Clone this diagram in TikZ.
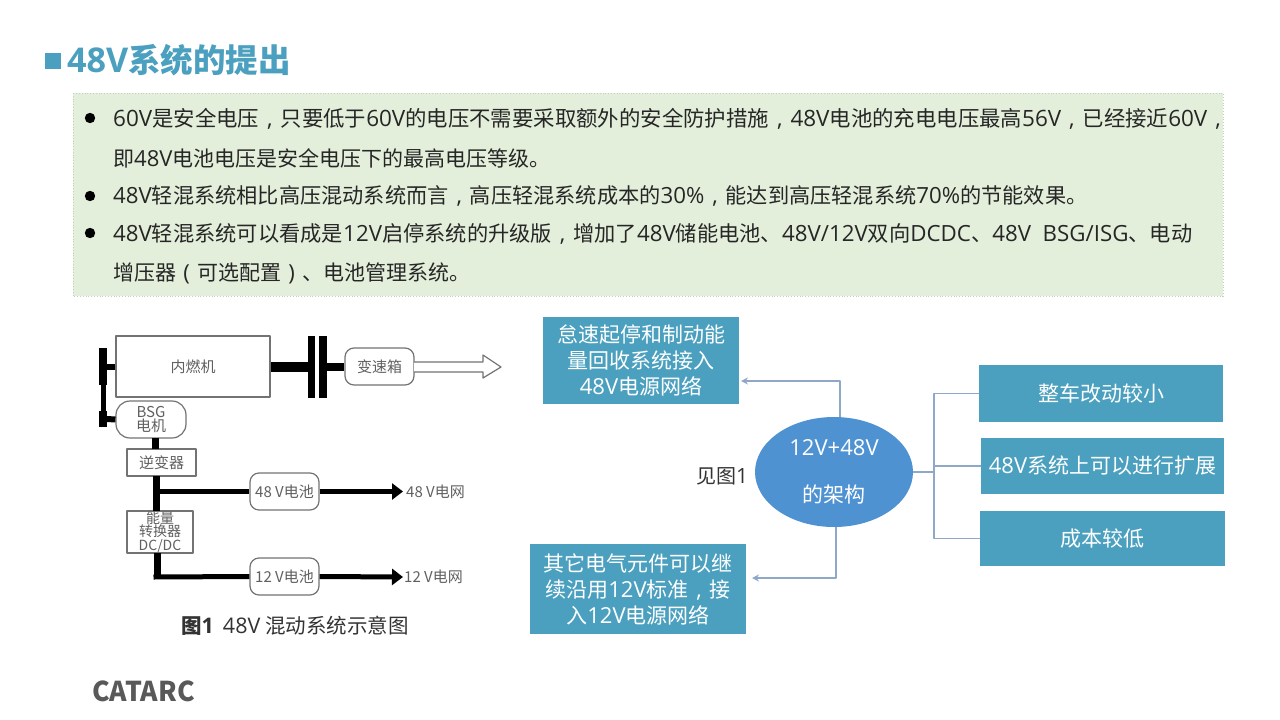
\documentclass[tikz,border=0pt]{standalone}
\usepackage{fontspec}
\usepackage{graphicx}
\setmainfont{Noto Sans CJK SC}
\newfontfamily\latinfont{Open Sans}[Scale=1.05]
\newcommand{\latn}[1]{{\latinfont #1}}
\newcommand{\wide}[1]{\makebox[1em][c]{\latinfont #1}}
\usetikzlibrary{shapes.geometric,arrows.meta}
\definecolor{tealbox}{HTML}{4BA0BF}
\definecolor{archblue}{HTML}{4F92D2}
\definecolor{panelgreen}{HTML}{E3EFDB}
\definecolor{linkblue}{HTML}{8FA8C8}
\definecolor{sketchgray}{HTML}{606060}
\tikzset{
	body/.style={anchor=west,text=black!85,font=\fontsize{#1}{21}\selectfont,inner sep=0pt},
	tealnode/.style={draw=none,fill=tealbox,text=white,align=center,inner sep=0pt,font=\fontsize{21}{26}\selectfont},
	partbox/.style={draw=black!55,line width=1.2pt,fill=white,text=sketchgray,align=center,inner sep=0pt,font=\fontsize{15}{14}\selectfont},
	partround/.style={partbox,rounded corners=9pt},
	shaft/.style={line width=#1,black},
	feed/.style={line width=5pt,black,-{Triangle[length=11pt,width=16pt]}},
	link/.style={linkblue,line width=1.2pt,>={Stealth[length=7pt,width=7pt]}},
	gridlabel/.style={anchor=west,text=sketchgray,inner sep=0pt,font=\fontsize{15}{15}\selectfont},
}
\newcommand{\boxat}[4]{(#1,#2) rectangle (#3,#4)}
\begin{document}
\begin{tikzpicture}[x=1pt,y=-1pt,line join=round,>=stealth]
	\useasboundingbox (0,0) rectangle (1280,720);
	% title
	\fill[tealbox] \boxat{45}{53}{61}{69};
	\node (title) at (67,60) [anchor=west,inner sep=0pt,text=tealbox,font=\fontsize{32.5}{32.5}\selectfont\bfseries]{\latn{48V}系统的提出};
	% green panel
	\draw[panelgreen!70!gray,fill=panelgreen,dotted,line width=0.8pt] \boxat{73}{93}{1223}{296};
	\foreach \y in {118,196,233}
		\fill[black] (90,\y) circle (5.2);
	\node (lineA) at (113,119) [body=21.4]{\latn{60V}是安全电压\wide{,}只要低于\latn{60V}的电压不需要采取额外的安全防护措施\wide{,}\latn{48V}电池的充电电压最高\latn{56V}\wide{,}已经接近\latn{60V}\wide{,}};
	\node (lineB) at (113,158) [body=21]{即\latn{48V}电池电压是安全电压下的最高电压等级。};
	\node (lineC) at (113,196) [body=21.2]{\latn{48V}轻混系统相比高压混动系统而言\wide{,}高压轻混系统成本的\latn{30\%}\wide{,}能达到高压轻混系统\latn{70\%}的节能效果。};
	\node (lineD) at (113,234) [body=21.25]{\latn{48V}轻混系统可以看成是\latn{12V}启停系统的升级版\wide{,}增加了\latn{48V}储能电池、\latn{48V/12V}双向\latn{DCDC}、\latn{48V\ \ BSG/ISG}、电动};
	\node (lineE) at (113,273) [body=21]{增压器\wide{(}可选配置\wide{)}、电池管理系统。};
	% system sketch
	\node (engine) at (193,366.5) [partbox,minimum width=154pt,minimum height=61pt]{内燃机};
	\node (gearbox) at (379.5,366.5) [partround,minimum width=69pt,minimum height=37pt]{变速箱};
	\node (bsg) at (151,419.5) [partround,rounded corners=14pt,minimum width=70pt,minimum height=37pt]{BSG\\电机};
	\node (inverter) at (161.5,462.5) [partbox,minimum width=69pt,minimum height=27pt]{逆变器};
	\node (converter) at (160,532) [partbox,minimum width=66pt,minimum height=42pt,font=\fontsize{14}{13.5}\selectfont]{能量\\转换器\\DC/DC};
	\node (batA) at (284.5,491.5) [partround,minimum width=69pt,minimum height=37pt]{48 V电池};
	\node (batB) at (284.5,576.5) [partround,minimum width=69pt,minimum height=37pt]{12 V电池};
	\node (gridA) at (406,491.5) [gridlabel]{48 V电网};
	\node (gridB) at (404,577) [gridlabel]{12 V电网};
	\fill[black] \boxat{99}{348}{107}{385};
	\fill[black] \boxat{101}{385}{106}{411};
	\fill[black] \boxat{99}{411}{107}{427};
	\draw[shaft=6pt] (107,367)--(engine.west|-107,367);
	\draw[shaft=6pt] (107,419)--(bsg.west);
	\fill[black] \boxat{307.5}{336}{315}{398};
	\fill[black] \boxat{319}{336}{327}{398};
	\draw[shaft=10pt] (engine.east)--(307.5,366.5);
	\draw[shaft=8pt] (327,366.5)--(gearbox.west);
	\draw[shaft=7pt] (155,438)--(155,449);
	\draw[shaft=7pt] (156,476)--(156,511);
	\draw[shaft=5pt] (156,491.5)--(batA.west);
	\draw[feed,shorten >=3pt] (batA.east)--(gridA.west);
	\draw[shaft=7pt] (157,553)--(157,577);
	\draw[shaft=5pt] (153.5,577)--(batB.west);
	\draw[feed,shorten >=1pt] (batB.east)--(gridB.west);
	\draw[black!55,line width=1.2pt,fill=white] (414,362)--(483,362)--(483,355)--(501,367)--(483,378)--(483,372)--(414,372);
	\node (caption) at (181,626) [anchor=west,inner sep=0pt,text=black!80,font=\fontsize{20.5}{20.5}\selectfont]{\textbf{图\latn{1}}\hspace{9pt}\latn{48V}\hspace{5pt}混动系统示意图};
	% architecture
	\node (arch) at (834,472) [ellipse,fill=archblue,text=white,minimum width=158pt,minimum height=110pt,inner sep=0pt,align=center,font=\fontsize{21}{47}\selectfont]{\latn{12V+48V}\\的架构};
	\node (seeFig) at (696,476) [anchor=west,inner sep=0pt,text=black!80,font=\fontsize{20}{20}\selectfont]{见图\latn{1}};
	\node (stopBox) at (641,360.5) [tealnode,minimum width=196pt,minimum height=87pt]{怠速起停和制动能\\量回收系统接入\\\latn{48V}电源网络};
	\node (otherBox) at (638,589) [tealnode,minimum width=216pt,minimum height=90pt]{其它电气元件可以继\\续沿用\latn{12V}标准\wide{,}接\\入\latn{12V}电源网络};
	\node (sideA) at (1101,393.5) [tealnode,minimum width=244pt,minimum height=57pt]{整车改动较小};
	\node (sideB) at (1102.5,466) [tealnode,minimum width=243pt,minimum height=56pt]{\latn{48V}系统上可以进行扩展};
	\node (sideC) at (1102.5,538.5) [tealnode,minimum width=245pt,minimum height=55pt]{成本较低};
	\coordinate (stopEnd) at (741,381);
	\coordinate (otherEnd) at (752,578);
	\coordinate (busTop) at (934,472);
	\draw[link,->] (840,417)|-(stopEnd);
	\draw[link,->] (836,527)|-(otherEnd);
	\draw[link] (arch.east)--(busTop);
	\foreach \n in {sideA,sideB,sideC}
		\draw[link] (busTop)|-(\n.west);
	% logo
	\node (logo) at (143.5,691.5) [inner sep=0pt,text=black!65,font=\fontsize{21}{21}\selectfont\bfseries]{\scalebox{1.26}[1.3]{CATARC}};
\end{tikzpicture}
\end{document}
